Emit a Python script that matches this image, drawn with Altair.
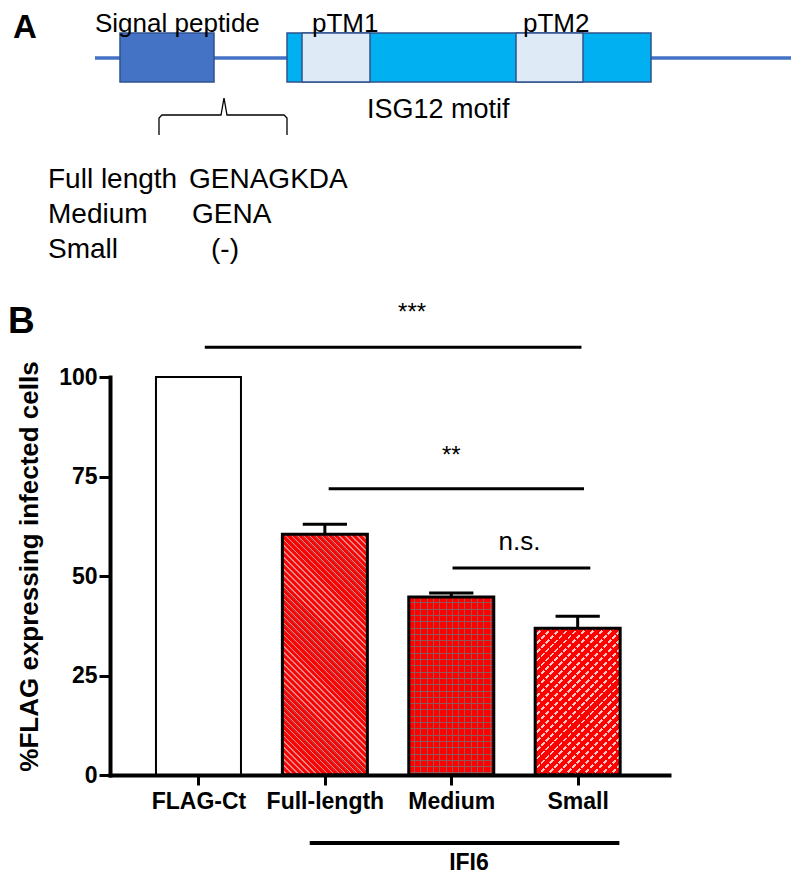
import math
import altair as alt
import pandas as pd

FONT = "Liberation Sans, Arial, sans-serif"

# ---------------- Panel B data ----------------
groups = ["FLAG-Ct", "Full-length", "Medium", "Small"]
group_pos = [1, 2, 3, 4]
means = [100.0, 60.5, 44.7, 36.9]
sems = [0.0, 2.5, 1.0, 3.0]
y_tick_values = [0, 25, 50, 75, 100]
y_title = "%FLAG expressing infected cells"

sig_labels = ["***", "**", "n.s."]
sig_from = [1.05, 2.03, 3.01]
sig_to = [4.03, 4.05, 4.10]
sig_line_level = [107.5, 71.9, 52.0]
sig_text_pos = [2.69, 3.00, 3.54]
sig_text_level = [114.2, 78.3, 56.5]

ifi6_label = ["IFI6"]
ifi6_from = [1.88]
ifi6_to = [4.33]
ifi6_line_level = [-17.1]
ifi6_text_pos = [3.14]
ifi6_text_level = [-23.8]

# ---------------- Panel A data (diagram units) ----------------
backbone_x0 = [87]
backbone_x1 = [788]
backbone_y = [50]

box_names = ["Signal peptide", "ISG12 motif", "pTM1", "pTM2"]
box_kind = ["signal", "motif", "tm", "tm"]
box_x0 = [112, 279, 294, 508]
box_x1 = [206, 643, 362, 575]
box_y0 = [25, 25, 25, 25]
box_y1 = [74, 74, 74, 74]

top_label_text = ["Signal peptide", "pTM1", "pTM2"]
top_label_x = [87, 304, 515]
top_label_y = [24, 24, 24]

motif_label_text = ["ISG12 motif"]
motif_label_x = [359]
motif_label_y = [110]

brace_x = [151, 151, 154, 213, 216, 219, 276, 279, 279]
brace_y = [127, 110, 107, 107, 90, 107, 107, 110, 127]

variant_names = ["Full length", "Medium", "Small"]
variant_seqs = ["GENAGKDA", "GENA", "(-)"]
variant_name_x = [40, 40, 40]
variant_seq_x = [181, 184, 203]
variant_y = [180, 215, 250]

letter_a = ["A"]
letter_a_x = [5]
letter_a_y = [30]
letter_b = ["B"]
letter_b_x = [0]
letter_b_y = [325]

# ---------------- helpers ----------------
PX_PER_UNIT = 398 / 100.0
BAR_PX = 85


def stripe_fill(w, h, direction, pattern):
    s = 1 / math.sqrt(2)
    a, b = {"back": (s, -s), "fwd": (s, s), "h": (0.0, 1.0), "v": (1.0, 0.0)}[direction]
    corners = [(0, 0), (1, 0), (0, 1), (1, 1)]
    vals = [a * u * w + b * v * h for u, v in corners]
    pmin, pmax = min(vals), max(vals)
    L = pmax - pmin
    u0, v0 = corners[vals.index(pmin)]
    gx, gy = a * w / L, b * h / L
    g2 = gx * gx + gy * gy
    dx, dy = gx / g2, gy / g2
    stops = []
    pos = 0.0
    while pos < L:
        for color, length in pattern:
            start = min(pos / L, 1.0)
            end = min((pos + length) / L, 1.0)
            stops.append({"offset": round(start, 5), "color": color})
            stops.append({"offset": round(end, 5), "color": color})
            pos += length
    return {"gradient": "linear", "x1": u0, "y1": v0,
            "x2": round(u0 + dx, 5), "y2": round(v0 + dy, 5), "stops": stops}


# ---------------- Panel B chart ----------------
bars = pd.DataFrame({"group": groups, "pos": group_pos, "mean": means, "sem": sems})
bars["top"] = bars["mean"] + bars["sem"]

xs = alt.Scale(domain=[0.3396, 4.683], nice=False, zero=False)
ys = alt.Scale(domain=[0, 100], nice=False, zero=True)

label_expr = "[" + ",".join("'%s'" % g for g in groups) + "][datum.value - 1]"
x_axis = alt.Axis(orient="bottom", values=group_pos, labelExpr=label_expr, title=None,
                  grid=False, domainColor="black", domainWidth=4, domainCap="square",
                  tickColor="black", tickWidth=3, tickSize=10, labelPadding=5,
                  labelFont=FONT, labelFontWeight="bold", labelFontSize=23,
                  labelColor="black", labelFlush=False, labelOverlap=False, zindex=1)
y_axis = alt.Axis(orient="left", values=y_tick_values, title=y_title, format="d",
                  grid=False, domainColor="black", domainWidth=4, domainCap="square",
                  tickColor="black", tickWidth=3, tickSize=11, labelPadding=2,
                  labelFont=FONT, labelFontWeight="bold", labelFontSize=23,
                  labelColor="black", labelFlush=False,
                  titleFont=FONT, titleFontWeight="bold", titleFontSize=26,
                  titleColor="black", titlePadding=16, titleY=189, zindex=1)


def bx(field):
    return alt.X(field, type="quantitative", scale=xs, axis=x_axis)


def by(field):
    return alt.Y(field, type="quantitative", scale=ys, axis=y_axis)


base = alt.Chart(bars)
layers_b = []

layers_b.append(base.transform_filter(alt.datum.group == groups[0])
                .mark_bar(size=BAR_PX, fill="white", stroke="black", strokeWidth=2)
                .encode(x=bx("pos"), y=by("mean")))

patterns = {
    "Full-length": [("back", [("#FF0000", 2.2), ("#C43030", 1.0), ("#FF8080", 1.0)])],
    "Medium": [("h", [("#FF0000", 5.3), ("#8C5A5A", 1.0)]),
               ("v", [("rgba(0,0,0,0)", 5.3), ("#8C5A5A", 1.0)])],
    "Small": [("fwd", [("#FF0000", 4.3), ("#FFC4C4", 2.0)]),
              ("back", [("rgba(0,0,0,0)", 4.5), ("#FF0000", 1.8)])],
}
for g, m in zip(groups, means):
    if g not in patterns:
        continue
    h_px = m * PX_PER_UNIT
    for direction, pat in patterns[g]:
        layers_b.append(base.transform_filter(alt.datum.group == g)
                        .mark_bar(size=BAR_PX, fill=stripe_fill(BAR_PX, h_px, direction, pat),
                                  strokeWidth=0)
                        .encode(x=bx("pos"), y=by("mean")))

layers_b.append(base.transform_filter(alt.datum.pos > 1)
                .mark_bar(size=BAR_PX, filled=False, color="black", strokeWidth=3)
                .encode(x=bx("pos"), y=by("mean")))

err = base.transform_filter(alt.datum.sem > 0)
layers_b.append(err.mark_rule(color="black", strokeWidth=3)
                .encode(x=bx("pos"), y=by("mean"), y2="top"))
layers_b.append(err.transform_calculate(c0="datum.pos - 0.175", c1="datum.pos + 0.175")
                .mark_rule(color="black", strokeWidth=3)
                .encode(x=bx("c0"), x2="c1", y=by("top")))

sig = pd.DataFrame({"label": sig_labels, "x0": sig_from, "x1": sig_to,
                    "level": sig_line_level, "tpos": sig_text_pos, "tlevel": sig_text_level})
layers_b.append(alt.Chart(sig).mark_rule(color="black", strokeWidth=3)
                .encode(x=bx("x0"), x2="x1", y=by("level")))
layers_b.append(alt.Chart(sig).transform_filter(alt.datum.label != "n.s.")
                .mark_text(font=FONT, fontSize=24, color="black", baseline="alphabetic")
                .encode(x=bx("tpos"), y=by("tlevel"), text="label:N"))
layers_b.append(alt.Chart(sig).transform_filter(alt.datum.label == "n.s.")
                .mark_text(font=FONT, fontSize=26, color="black", baseline="alphabetic")
                .encode(x=bx("tpos"), y=by("tlevel"), text="label:N"))

ifi = pd.DataFrame({"label": ifi6_label, "x0": ifi6_from, "x1": ifi6_to,
                    "level": ifi6_line_level, "tpos": ifi6_text_pos, "tlevel": ifi6_text_level})
layers_b.append(alt.Chart(ifi).mark_rule(color="black", strokeWidth=4)
                .encode(x=bx("x0"), x2="x1", y=by("level")))
layers_b.append(alt.Chart(ifi)
                .mark_text(font=FONT, fontSize=23, fontWeight="bold", color="black",
                           baseline="alphabetic")
                .encode(x=bx("tpos"), y=by("tlevel"), text="label:N"))

chart_b = alt.layer(*layers_b)

# ---------------- Panel A chart ----------------
axs = alt.Scale(domain=[102, 661], nice=False, zero=False)
ays = alt.Scale(domain=[369, 767], nice=False, zero=False, reverse=True)


def ax(field):
    return alt.X(field, type="quantitative", scale=axs, axis=None)


def ay(field):
    return alt.Y(field, type="quantitative", scale=ays, axis=None)


bb = pd.DataFrame({"x0": backbone_x0, "x1": backbone_x1, "y": backbone_y})
boxes = pd.DataFrame({"name": box_names, "kind": box_kind, "x0": box_x0, "x1": box_x1,
                      "y0": box_y0, "y1": box_y1})
top_labels = pd.DataFrame({"text": top_label_text, "x": top_label_x, "y": top_label_y})
motif_labels = pd.DataFrame({"text": motif_label_text, "x": motif_label_x, "y": motif_label_y})
brace = pd.DataFrame({"i": list(range(len(brace_x))), "x": brace_x, "y": brace_y})
variants = pd.DataFrame({"name": variant_names, "seq": variant_seqs, "nx": variant_name_x,
                         "sx": variant_seq_x, "y": variant_y})
letters_a = pd.DataFrame({"t": letter_a, "x": letter_a_x, "y": letter_a_y})
letters_b = pd.DataFrame({"t": letter_b, "x": letter_b_x, "y": letter_b_y})

a_backbone = alt.Chart(bb).mark_rule(color="#4472C4", strokeWidth=3.5).encode(
    x=ax("x0"), x2="x1", y=ay("y"))
a_boxes = alt.Chart(boxes).mark_rect(stroke="#2F528F", strokeWidth=1.5).encode(
    x=ax("x0"), x2="x1", y=ay("y0"), y2="y1",
    fill=alt.Fill("kind:N", legend=None,
                  scale=alt.Scale(domain=["signal", "motif", "tm"],
                                  range=["#4472C4", "#00B0F0", "#DEEBF7"])))
a_top_labels = alt.Chart(top_labels).mark_text(font=FONT, fontSize=26, color="black",
                                               align="left", baseline="alphabetic").encode(
    x=ax("x"), y=ay("y"), text="text:N")
a_motif = alt.Chart(motif_labels).mark_text(font=FONT, fontSize=27, color="black",
                                            align="left", baseline="alphabetic").encode(
    x=ax("x"), y=ay("y"), text="text:N")
a_brace = alt.Chart(brace).mark_line(color="black", strokeWidth=1.3).encode(
    x=ax("x"), y=ay("y"), order="i:Q")
a_names = alt.Chart(variants).mark_text(font=FONT, fontSize=28, color="black", align="left",
                                        baseline="alphabetic").encode(
    x=ax("nx"), y=ay("y"), text="name:N")
a_seqs = alt.Chart(variants).mark_text(font=FONT, fontSize=28, color="black", align="left",
                                       baseline="alphabetic").encode(
    x=ax("sx"), y=ay("y"), text="seq:N")
a_letter_a = alt.Chart(letters_a).mark_text(font=FONT, fontWeight="bold", color="black",
                                            align="left", baseline="alphabetic",
                                            fontSize=33).encode(
    x=ax("x"), y=ay("y"), text="t:N")
a_letter_b = alt.Chart(letters_b).mark_text(font=FONT, fontWeight="bold", color="black",
                                            align="left", baseline="alphabetic",
                                            fontSize=37).encode(
    x=ax("x"), y=ay("y"), text="t:N")

chart_a = alt.layer(a_backbone, a_boxes, a_top_labels, a_motif, a_brace, a_names, a_seqs,
                    a_letter_a, a_letter_b)

chart = (
    alt.layer(chart_b, chart_a)
    .resolve_scale(x="independent", y="independent", fill="independent")
    .properties(width=559, height=398,
                padding={"left": 102, "top": 369, "right": 122, "bottom": 100},
                autosize=alt.AutoSizeParams(type="none"),
                background="white")
    .configure_view(strokeWidth=0)
)

chart.save("out.html", embed_options={"renderer": "svg", "actions": False})
